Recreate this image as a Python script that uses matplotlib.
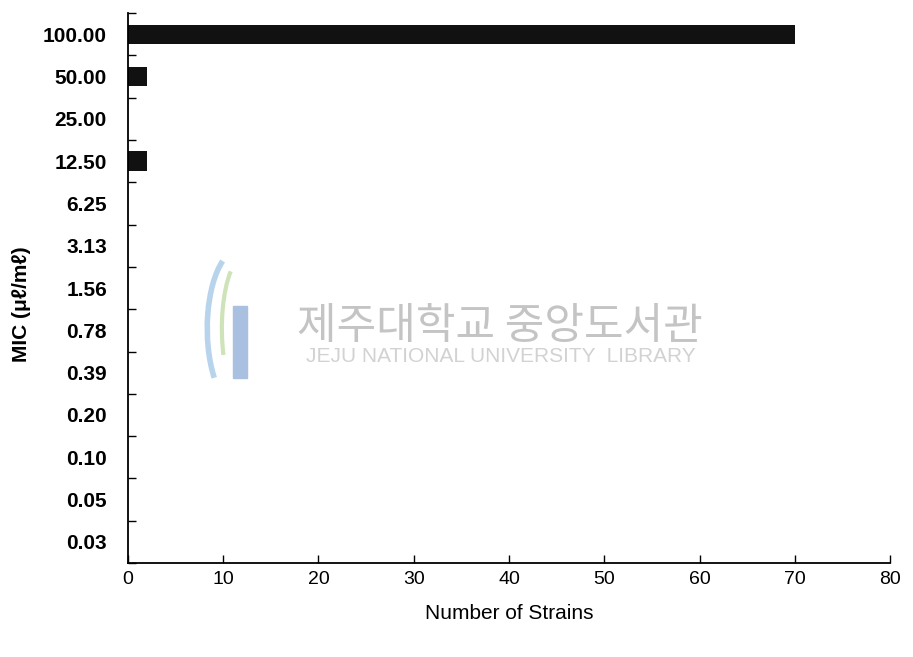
import matplotlib
matplotlib.use("Agg")
import matplotlib.pyplot as plt
from matplotlib.patches import Rectangle, Arc
import numpy as np

# ---------------------- data ----------------------
mic_labels = ["100.00", "50.00", "25.00", "12.50", "6.25", "3.13", "1.56",
              "0.78", "0.39", "0.20", "0.10", "0.05", "0.03"]
num_strains = [70, 2, 0, 2, 0, 0, 0, 0, 0, 0, 0, 0, 0]
x_ticks = [0, 10, 20, 30, 40, 50, 60, 70, 80]

plt.rcParams['font.family'] = ['Liberation Sans', 'DejaVu Sans']

fig = plt.figure(figsize=(9.13, 6.57), dpi=100)
ax = fig.add_axes([0.140, 0.143, 0.835, 0.837])

ypos = np.arange(len(mic_labels))
ax.barh(ypos, num_strains, height=0.46, color="#111111", linewidth=0)

ax.set_xlim(0, 80)
ax.set_ylim(len(mic_labels) - 0.5, -0.5)

ax.set_yticks(ypos)
ax.set_yticklabels(mic_labels, fontsize=15, fontweight="bold")
ax.set_yticks(np.arange(len(mic_labels) + 1) - 0.5, minor=True)
ax.tick_params(axis="y", which="major", length=0, pad=15)
ax.tick_params(axis="y", which="minor", direction="in", length=6, width=1)

ax.set_xticks(x_ticks)
ax.set_xticklabels([str(v) for v in x_ticks], fontsize=14)
ax.tick_params(axis="x", direction="in", length=6, width=1, pad=6)

for s in ["top", "right"]:
    ax.spines[s].set_visible(False)
for s in ["left", "bottom"]:
    ax.spines[s].set_linewidth(1.3)

ax.set_xlabel("Number of Strains", fontsize=15, labelpad=11)
ax.set_ylabel("MIC (μℓ/mℓ)", fontsize=15, fontweight="bold")
ax.yaxis.set_label_coords(-0.127, 0.47)

# ---------------------- watermark ----------------------
fig.text(0.548, 0.503, "제주대학교 중앙도서관", fontsize=31, color="#c4c4c4",
         ha="center", va="center", family=['Noto Sans CJK KR', 'DejaVu Sans'])
fig.text(0.548, 0.457, "JEJU NATIONAL UNIVERSITY  LIBRARY", fontsize=15,
         color="#d2d2d2", ha="center", va="center")
fig.patches.append(Rectangle((0.255, 0.425), 0.015, 0.11, transform=fig.transFigure,
                             color="#aac0e0", zorder=0))
fig.patches.append(Arc((0.262, 0.50), 0.07, 0.24, theta1=100, theta2=250,
                       transform=fig.transFigure, color="#b8d4ec", lw=4, zorder=0))
fig.patches.append(Arc((0.268, 0.50), 0.05, 0.22, theta1=100, theta2=240,
                       transform=fig.transFigure, color="#cfe3b8", lw=3, zorder=0))

fig.savefig("out.png", dpi=100)
